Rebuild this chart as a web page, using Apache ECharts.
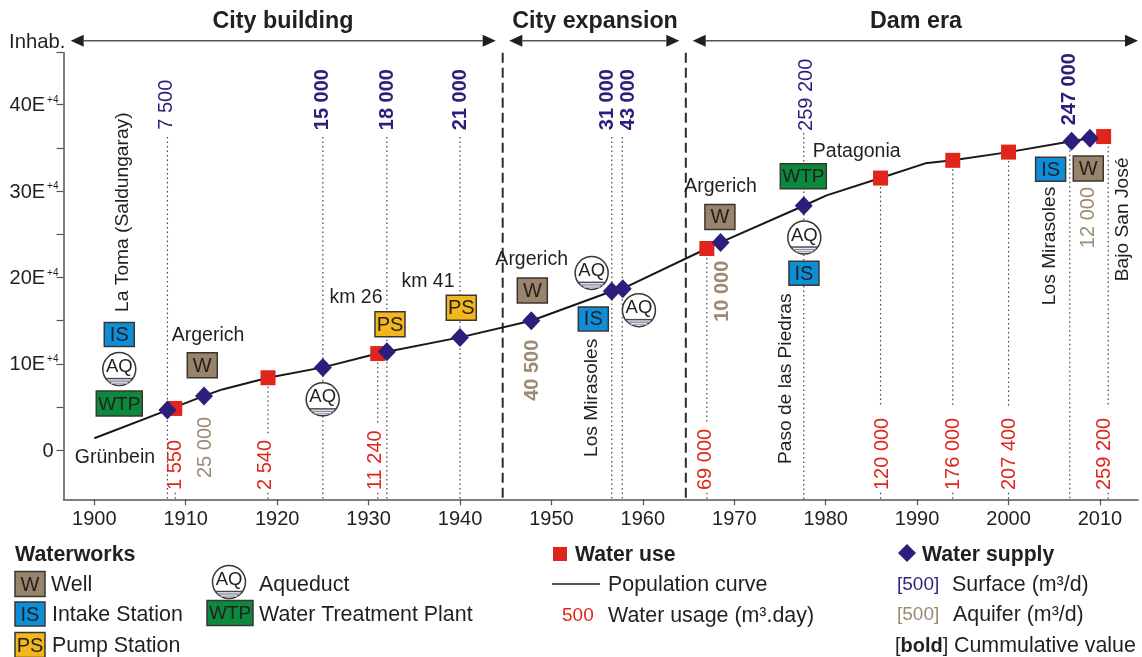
<!DOCTYPE html>
<html>
<head>
<meta charset="utf-8">
<style>html,body{margin:0;padding:0;background:#fff}#c{width:1142px;height:657px}</style>
<script src="https://cdn.jsdelivr.net/npm/echarts@6/dist/echarts.min.js"></script>
</head>
<body>
<div id="c"></div>
<script>
// ---- values (population in units of 1E+4 inhabitants) ----
const populationYears = [1900, 1908, 1912, 1914, 1919, 1925, 1931, 1932, 1940, 1947.8, 1956.6, 1957.8, 1967, 1968.5, 1977.6, 1980.1, 1986, 1990.9, 1993.9, 2000, 2006.9, 2008.9, 2010.4];
const populationValues = [1.4, 4.66, 6.3, 7.05, 8.4, 9.6, 11.2, 11.4, 13.07, 15, 18.4, 18.7, 23.35, 24.05, 28.3, 29.5, 31.5, 33.2, 33.55, 34.5, 35.75, 36.1, 36.3];
const waterUseYears = [1908.8, 1919, 1931, 1967, 1986, 1993.9, 2000, 2010.4];
const waterUsePopulation = [4.85, 8.4, 11.2, 23.35, 31.5, 33.55, 34.5, 36.3];
const waterSupplyYears = [1908, 1912, 1925, 1932, 1940, 1947.8, 1956.6, 1957.8, 1968.5, 1977.6, 2006.9, 2008.9];
const waterSupplyPopulation = [4.66, 6.3, 9.6, 11.4, 13.07, 15, 18.4, 18.7, 24.05, 28.3, 35.75, 36.1];
const eraBoundaries = [1944.67, 1964.7];
const xTickValues = [1900, 1910, 1920, 1930, 1940, 1950, 1960, 1970, 1980, 1990, 2000, 2010];
const yLabelValues = [0, 10, 20, 30, 40];
const yTickValues = [0, 5, 10, 15, 20, 25, 30, 35, 40, 46];
const eraNames = ['City building', 'City expansion', 'Dam era'];

// vertical numbers: [year, axis value at the text start, text, kind]
const flowLabels = [
  [1907.84, 37.09, '7 500', 'surface'], [1924.98, 37.03, '15 000', 'surfaceBold'], [1932.1, 37.03, '18 000', 'surfaceBold'],
  [1940, 37.03, '21 000', 'surfaceBold'], [1956.1, 37.03, '31 000', 'surfaceBold'], [1958.45, 37.03, '43 000', 'surfaceBold'],
  [1977.9, 36.95, '259 200', 'surface'], [2006.7, 37.6, '247 000', 'surfaceBold'],
  [1912.2, -3.2, '25 000', 'aquifer'], [1947.95, 5.73, '40 500', 'aquiferBold'], [1968.73, 14.87, '10 000', 'aquiferBold'], [2008.7, 23.39, '12 000', 'aquifer'],
  [1908.83, -4.59, '1 550', 'use'], [1918.75, -4.59, '2 540', 'use'], [1930.8, -4.59, '11 240', 'use'], [1966.8, -4.59, '69 000', 'use'],
  [1986.2, -4.59, '120 000', 'use'], [1994, -4.59, '176 000', 'use'], [2000.15, -4.59, '207 400', 'use'], [2010.53, -4.59, '259 200', 'use']
];
// vertical place names: [year, axis value at the text start, text]
const verticalPlaces = [
  [1903.14, 16.02, 'La Toma (Saldungaray)'], [1954.4, -0.77, 'Los Mirasoles'], [1975.6, -1.58, 'Paso de las Piedras'],
  [2004.5, 16.8, 'Los Mirasoles'], [2012.5, 19.57, 'Bajo San José']
];
// horizontal place names: [year, axis value, text]
const horizontalPlaces = [
  [1902.26, -0.86, 'Grünbein'], [1912.44, 13.29, 'Argerich'], [1928.62, 17.72, 'km 26'], [1936.5, 19.49, 'km 41'],
  [1947.84, 22.08, 'Argerich'], [1968.5, 30.48, 'Argerich'], [1983.39, 34.6, 'Patagonia']
];
// waterworks icons: [year, axis value, type]
const waterworks = [
  [1902.73, 13.41, 'IS'], [1902.73, 9.4, 'AQ'], [1902.73, 5.43, 'WTP'], [1911.81, 9.86, 'W'], [1924.98, 5.9, 'AQ'],
  [1932.34, 14.6, 'PS'], [1940.14, 16.49, 'PS'], [1947.91, 18.5, 'W'], [1954.4, 20.53, 'AQ'], [1954.58, 15.21, 'IS'],
  [1959.57, 16.22, 'AQ'], [1968.43, 27, 'W'], [1977.55, 31.71, 'WTP'], [1977.66, 24.62, 'AQ'], [1977.62, 20.5, 'IS'],
  [2004.6, 32.52, 'IS'], [2008.72, 32.6, 'W']
];
// dotted guide lines: [year, from, to]
const guideLines = [
  [1908, 36.25, -5.66], [1908.85, -4.9, -5.66], [1919, 8.4, 1.7], [1919, -4.9, -5.66], [1925, 36.25, -5.66],
  [1931, 11.2, 2.9], [1931, -4.9, -5.66], [1932, 36.25, -5.66], [1940, 36.25, -5.66], [1956.6, 36.25, -5.66], [1957.75, 36.25, -5.66],
  [1967, 23.3, 3.1], [1967, -4.9, -5.66], [1977.6, 36.7, -5.66],
  [1986, 31.5, 5.04], [1986, -4.9, -5.66], [1993.9, 33.55, 5.04], [1993.9, -4.9, -5.66], [2000, 34.5, 5.04], [2000, -4.9, -5.66],
  [2006.7, 35.75, -5.66], [2010.9, 36.2, 5.04], [2010.9, -4.9, -5.66]
];

// ---- styles ----
const FONT = '"Liberation Sans", Arial, sans-serif';
const INK = '#231f20', NAVY = '#2b1f7c', TAN = '#9c8a72', RED = '#e0261c';
const flowStyle = {
  surface: [NAVY, 'normal'], surfaceBold: [NAVY, 'bold'], aquifer: [TAN, 'normal'], aquiferBold: [TAN, 'bold'], use: [RED, 'normal']
};
const boxStyle = {
  W: { fill: '#98836b', w: 30, h: 25, size: 20 }, IS: { fill: '#0c8fd8', w: 30, h: 24, size: 20 },
  PS: { fill: '#f3b71d', w: 30, h: 25, size: 20 }, WTP: { fill: '#0b8a3e', w: 46, h: 25, size: 19 }
};

function boxGroup(type, x, y) {
  const s = boxStyle[type];
  return {
    type: 'group', x, y, children: [
      { type: 'rect', shape: { x: -s.w / 2, y: -s.h / 2, width: s.w, height: s.h }, style: { fill: s.fill, stroke: '#3a3633', lineWidth: 1.5 } },
      { type: 'text', style: { text: type, x: 0, y: 1, align: 'center', verticalAlign: 'middle', fill: INK, font: s.size + 'px ' + FONT } }
    ]
  };
}
function aqGroup(x, y) {
  const r = 16.5;
  const clipLine = (dy, c, lw) => {
    const hw = Math.sqrt(r * r - dy * dy);
    return { type: 'line', shape: { x1: -hw, y1: dy, x2: hw, y2: dy }, style: { stroke: c, lineWidth: lw } };
  };
  return {
    type: 'group', x, y, children: [
      { type: 'circle', shape: { cx: 0, cy: 0, r }, style: { fill: '#fff', stroke: '#3a3633', lineWidth: 1.5 } },
      clipLine(9.5, '#4a4756', 1.5), clipLine(12, '#8f8fa8', 1.5), clipLine(14.2, '#aaaabb', 1.5),
      { type: 'text', style: { text: 'AQ', x: 0, y: -2, align: 'center', verticalAlign: 'middle', fill: INK, font: '18.5px ' + FONT } }
    ]
  };
}
function vText(x, y, text, fill, weight, size) {
  return { type: 'text', x, y, rotation: Math.PI / 2, style: { text, x: 0, y: 0, align: 'left', verticalAlign: 'middle', fill, font: weight + ' ' + (size || 20) + 'px ' + FONT } };
}

// ---- header arrows and legend (page furniture, not data marks) ----
function arrow(x1, x2, y) {
  const c = '#555', head = '#231f20', a = 13, b = 6;
  return [
    { type: 'line', shape: { x1: x1 + a, y1: y, x2: x2 - a, y2: y }, style: { stroke: c, lineWidth: 1.5 } },
    { type: 'polygon', shape: { points: [[x1, y], [x1 + a, y - b], [x1 + a, y + b]] }, style: { fill: head } },
    { type: 'polygon', shape: { points: [[x2, y], [x2 - a, y - b], [x2 - a, y + b]] }, style: { fill: head } }
  ];
}
function txt(x, y, text, opt) {
  opt = opt || {};
  return {
    type: 'text', x, y: y + 1, style: {
      text, x: 0, y: 0, align: opt.align || 'left', verticalAlign: 'middle',
      fill: opt.fill || INK, font: (opt.bold ? 'bold ' : '') + (opt.size || 21.4) + 'px ' + FONT
    }
  };
}
const graphics = [
  ...arrow(70.7, 495.7, 40.7), ...arrow(509.3, 679.3, 40.7), ...arrow(692.7, 1138, 40.7),
  txt(283, 21, eraNames[0], { bold: true, size: 23.3, align: 'center' }),
  txt(595, 21, eraNames[1], { bold: true, size: 23.3, align: 'center' }),
  txt(916, 21, eraNames[2], { bold: true, size: 23.3, align: 'center' }),
  txt(9, 41, 'Inhab.', { size: 20.3 }),
  txt(15, 554, 'Waterworks', { bold: true, size: 21.4 }),
  boxGroup('W', 30, 584), txt(51, 584, 'Well'),
  boxGroup('IS', 30, 614), txt(52, 614, 'Intake Station'),
  boxGroup('PS', 30, 645), txt(52, 645, 'Pump Station'),
  aqGroup(229, 582), txt(259, 584, 'Aqueduct'),
  boxGroup('WTP', 230, 613), txt(259, 614, 'Water Treatment Plant'),
  { type: 'rect', shape: { x: 553, y: 547, width: 14, height: 14 }, style: { fill: RED } },
  txt(575, 554, 'Water use', { bold: true, size: 21.2 }),
  { type: 'line', shape: { x1: 552, y1: 584, x2: 600, y2: 584 }, style: { stroke: INK, lineWidth: 1.5 } },
  txt(608, 584, 'Population curve'),
  txt(562, 615, '500', { fill: RED, size: 19 }),
  txt(608, 615, 'Water usage (m³.day)'),
  { type: 'polygon', shape: { points: [[898, 553], [907, 544], [916, 553], [907, 562]] }, style: { fill: NAVY } },
  txt(922, 554, 'Water supply', { bold: true, size: 21.2 }),
  txt(897, 584, '[500]', { fill: NAVY, size: 19 }),
  txt(952, 584, 'Surface (m³/d)'),
  txt(897, 614, '[500]', { fill: TAN, size: 19 }),
  txt(953, 614, 'Aquifer (m³/d)'),
  {
    type: 'text', x: 895, y: 646, style: {
      text: '{n|[}{b|bold}{n|]}', x: 0, y: 0, align: 'left', verticalAlign: 'middle',
      rich: { n: { fill: INK, font: '20px ' + FONT }, b: { fill: INK, font: 'bold 20px ' + FONT } }
    }
  },
  txt(954, 645, 'Cummulative value')
];

// ---- chart ----
const axisLine = { show: true, onZero: false, lineStyle: { color: '#555', width: 1.5 } };
const option = {
  animation: false,
  backgroundColor: '#fff',
  textStyle: { fontFamily: FONT },
  grid: { left: 63.5, right: 4, top: 52.7, bottom: 157.7, containLabel: false },
  xAxis: {
    type: 'value', min: 1896.63, max: 2014.16, splitLine: { show: false }, axisLine,
    axisTick: { show: true, length: 6, customValues: xTickValues, lineStyle: { color: '#555', width: 1.2 } },
    axisLabel: { customValues: xTickValues, color: INK, fontSize: 20, fontFamily: FONT, margin: 10, formatter: v => String(v) }
  },
  yAxis: {
    type: 'value', min: -5.66, max: 46, splitLine: { show: false }, axisLine,
    axisTick: { show: true, length: 7, customValues: yTickValues, lineStyle: { color: '#555', width: 1.2 } },
    axisLabel: {
      customValues: yLabelValues, margin: 5, color: INK, fontSize: 20, fontFamily: FONT,
      formatter: v => v === 0 ? '{z|0}' : '{a|' + v + 'E}{b|+4}',
      rich: {
        a: { fontSize: 20, color: INK, fontFamily: FONT, padding: [2, 0, 0, 0] },
        z: { fontSize: 20, color: INK, fontFamily: FONT, padding: [2, 5, 0, 0] },
        b: { fontSize: 10, color: INK, fontFamily: FONT, padding: [0, 0, 9, 2] }
      }
    }
  },
  graphic: graphics,
  series: [
    {
      name: 'Guides', type: 'custom', silent: true, clip: false, z: 1,
      data: guideLines.map(g => [g[0], g[1], g[2]]),
      renderItem: (p, api) => {
        const a = api.coord([api.value(0), api.value(1)]), b = api.coord([api.value(0), api.value(2)]);
        return { type: 'line', shape: { x1: a[0], y1: a[1], x2: b[0], y2: b[1] }, style: { stroke: '#444', lineWidth: 1.2, lineDash: [1.5, 3] } };
      }
    },
    {
      name: 'Era limits', type: 'custom', silent: true, z: 2,
      data: eraBoundaries.map(y => [y]),
      renderItem: (p, api) => {
        const a = api.coord([api.value(0), 46]), b = api.coord([api.value(0), -5.66]);
        return { type: 'line', shape: { x1: a[0], y1: a[1], x2: b[0], y2: b[1] }, style: { stroke: '#2e2b2c', lineWidth: 2, lineDash: [10, 5] } };
      }
    },
    {
      name: 'Population curve', type: 'line', z: 3, showSymbol: false, smooth: false, silent: true,
      data: populationYears.map((y, i) => [y, populationValues[i]]),
      lineStyle: { color: '#1a1718', width: 2 }
    },
    {
      name: 'Waterworks', type: 'custom', silent: true, z: 4,
      data: waterworks.map(w => [w[0], w[1]]),
      renderItem: (p, api) => {
        const c = api.coord([api.value(0), api.value(1)]), t = waterworks[p.dataIndex][2];
        return t === 'AQ' ? aqGroup(c[0], c[1]) : boxGroup(t, c[0], c[1]);
      }
    },
    {
      name: 'Water use', type: 'scatter', z: 5, symbol: 'rect', symbolSize: 15, silent: true,
      itemStyle: { color: RED, opacity: 1 },
      data: waterUseYears.map((y, i) => [y, waterUsePopulation[i]])
    },
    {
      name: 'Water supply', type: 'scatter', z: 6, symbol: 'diamond', symbolSize: [18, 19], silent: true,
      itemStyle: { color: NAVY, opacity: 1 },
      data: waterSupplyYears.map((y, i) => [y, waterSupplyPopulation[i]])
    },
    {
      name: 'Flow labels', type: 'custom', silent: true, clip: false, z: 7,
      data: flowLabels.map(f => [f[0], f[1]]),
      renderItem: (p, api) => {
        const c = api.coord([api.value(0), api.value(1)]), f = flowLabels[p.dataIndex], s = flowStyle[f[3]];
        return vText(c[0], c[1], f[2], s[0], s[1]);
      }
    },
    {
      name: 'Vertical places', type: 'custom', silent: true, clip: false, z: 7,
      data: verticalPlaces.map(f => [f[0], f[1]]),
      renderItem: (p, api) => {
        const c = api.coord([api.value(0), api.value(1)]);
        return vText(c[0], c[1], verticalPlaces[p.dataIndex][2], INK, 'normal', 19.2);
      }
    },
    {
      name: 'Horizontal places', type: 'custom', silent: true, clip: false, z: 7,
      data: horizontalPlaces.map(f => [f[0], f[1]]),
      renderItem: (p, api) => {
        const c = api.coord([api.value(0), api.value(1)]);
        return { type: 'text', x: c[0], y: c[1], style: { text: horizontalPlaces[p.dataIndex][2], x: 0, y: 0, align: 'center', verticalAlign: 'middle', fill: INK, font: '19.5px ' + FONT } };
      }
    }
  ]
};
echarts.init(document.getElementById('c'), null, { renderer: 'canvas' }).setOption(option);
</script>
</body>
</html>
